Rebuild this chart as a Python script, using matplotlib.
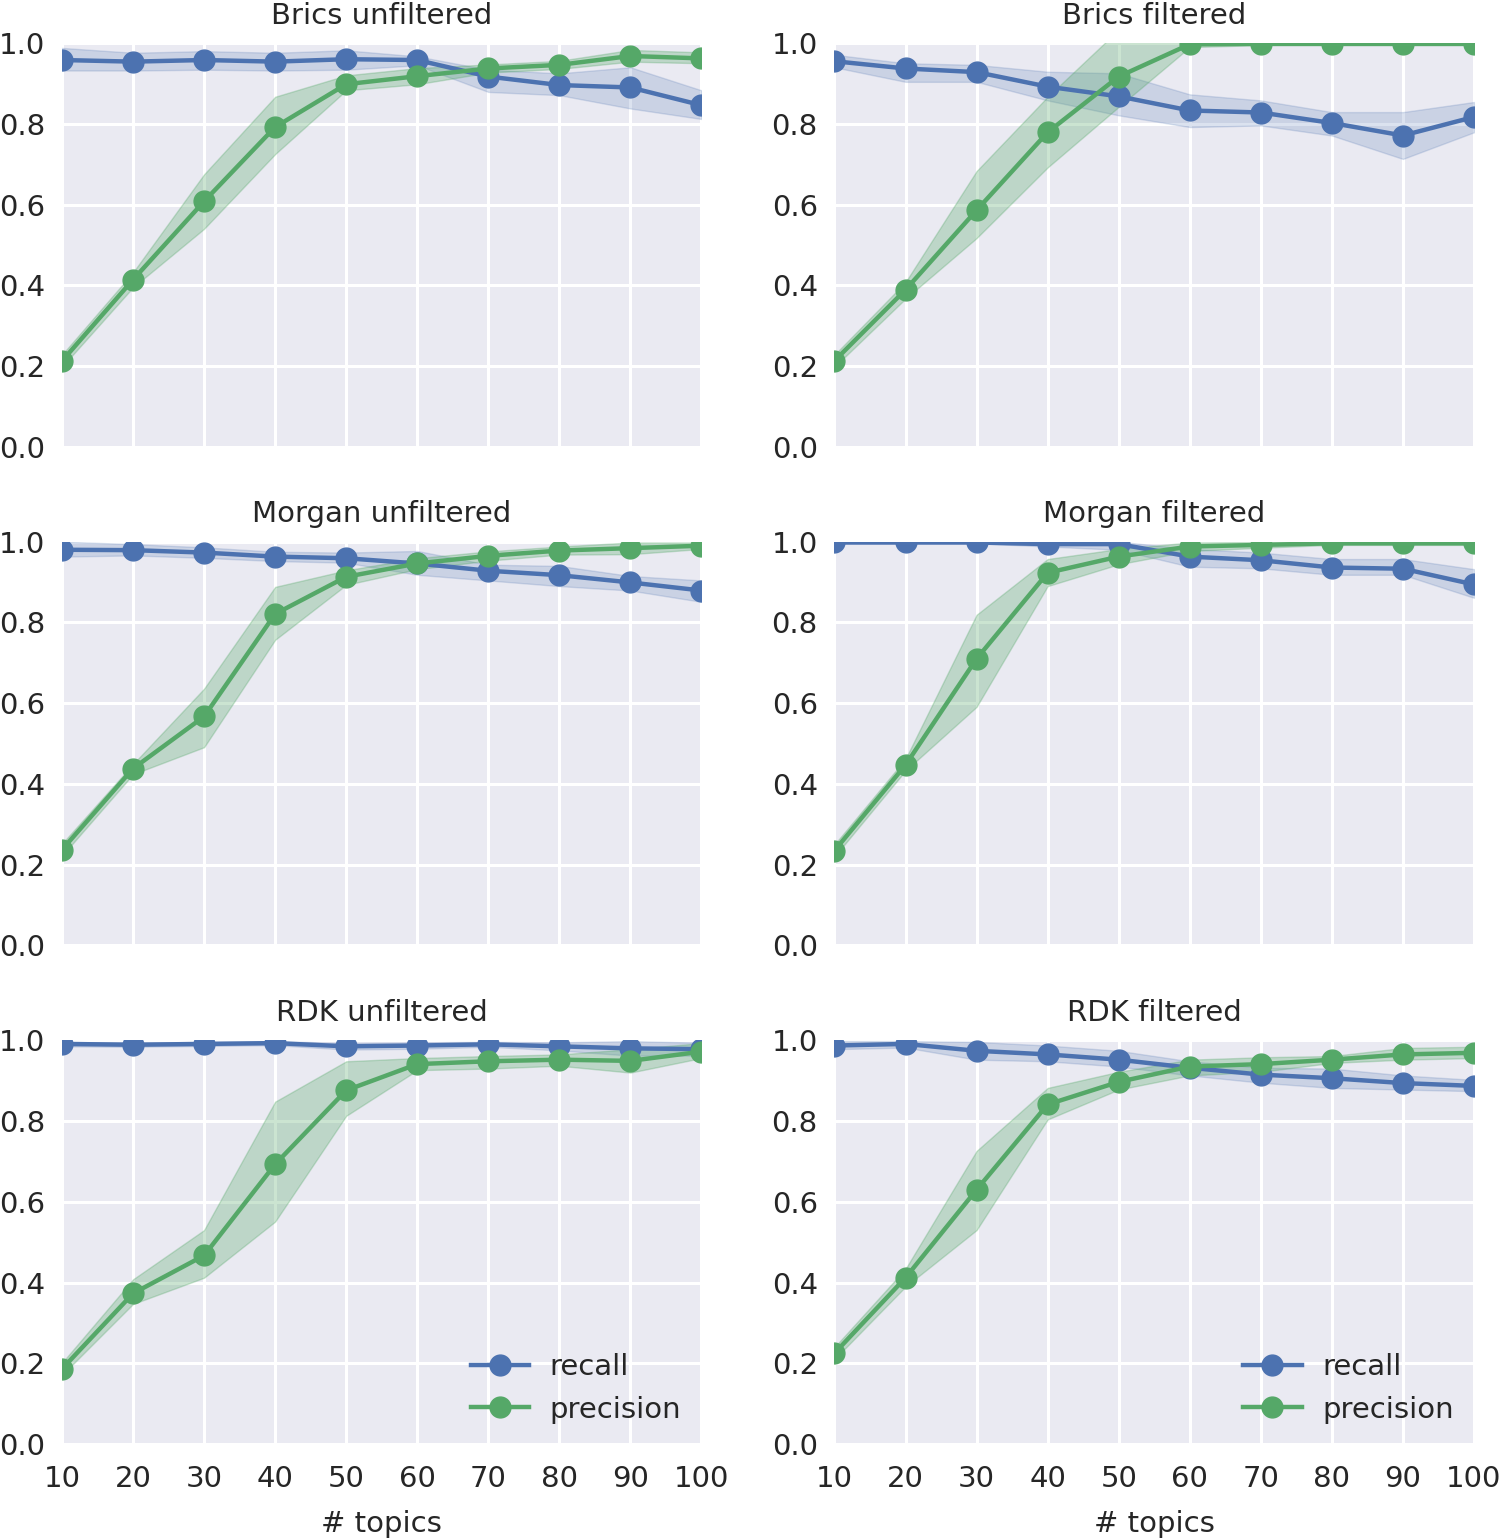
import numpy as np
import matplotlib
matplotlib.use("Agg")
import matplotlib.pyplot as plt

topics = [10, 20, 30, 40, 50, 60, 70, 80, 90, 100]
titles = ["Brics unfiltered", "Brics filtered", "Morgan unfiltered",
          "Morgan filtered", "RDK unfiltered", "RDK filtered"]

# recall means and band bounds
brics_unf_recall = [0.958, 0.954, 0.958, 0.954, 0.960, 0.958, 0.917, 0.896, 0.890, 0.846]
brics_unf_recall_lo = [0.932, 0.932, 0.934, 0.932, 0.934, 0.945, 0.879, 0.871, 0.838, 0.812]
brics_unf_recall_hi = [0.988, 0.976, 0.980, 0.976, 0.982, 0.967, 0.934, 0.925, 0.940, 0.883]
brics_unf_prec = [0.2125, 0.414, 0.608, 0.792, 0.898, 0.918, 0.937, 0.946, 0.968, 0.962]
brics_unf_prec_lo = [0.198, 0.395, 0.540, 0.725, 0.883, 0.898, 0.927, 0.936, 0.954, 0.950]
brics_unf_prec_hi = [0.228, 0.432, 0.675, 0.867, 0.920, 0.938, 0.947, 0.956, 0.983, 0.977]

brics_f_recall = [0.955, 0.937, 0.928, 0.892, 0.868, 0.833, 0.828, 0.802, 0.771, 0.817]
brics_f_recall_lo = [0.940, 0.904, 0.904, 0.858, 0.821, 0.792, 0.796, 0.771, 0.713, 0.779]
brics_f_recall_hi = [0.971, 0.950, 0.946, 0.929, 0.925, 0.873, 0.858, 0.829, 0.829, 0.854]
brics_f_prec = [0.213, 0.389, 0.586, 0.779, 0.917, 0.997, 0.998, 0.998, 0.998, 0.998]
brics_f_prec_lo = [0.198, 0.367, 0.517, 0.692, 0.842, 0.990, 0.995, 0.995, 0.995, 0.995]
brics_f_prec_hi = [0.228, 0.408, 0.683, 0.867, 1.033, 1.001, 1.001, 1.001, 1.001, 1.001]

morgan_unf_recall = [0.980, 0.979, 0.973, 0.963, 0.959, 0.946, 0.928, 0.917, 0.899, 0.879]
morgan_unf_recall_lo = [0.963, 0.966, 0.960, 0.952, 0.948, 0.918, 0.904, 0.890, 0.879, 0.851]
morgan_unf_recall_hi = [1.000, 0.994, 0.986, 0.975, 0.973, 0.977, 0.943, 0.940, 0.915, 0.904]
morgan_unf_prec = [0.237, 0.438, 0.567, 0.821, 0.913, 0.946, 0.965, 0.978, 0.984, 0.990]
morgan_unf_prec_lo = [0.222, 0.424, 0.491, 0.757, 0.893, 0.932, 0.953, 0.968, 0.969, 0.982]
morgan_unf_prec_hi = [0.252, 0.449, 0.636, 0.888, 0.929, 0.959, 0.976, 0.988, 0.998, 0.998]

morgan_f_recall = [0.998, 0.998, 0.998, 0.994, 0.994, 0.963, 0.954, 0.936, 0.933, 0.894]
morgan_f_recall_lo = [0.996, 0.996, 0.996, 0.988, 0.980, 0.938, 0.934, 0.918, 0.918, 0.861]
morgan_f_recall_hi = [1.000, 1.000, 1.000, 1.000, 1.000, 0.982, 0.973, 0.957, 0.957, 0.932]
morgan_f_prec = [0.235, 0.447, 0.710, 0.923, 0.963, 0.988, 0.992, 0.996, 0.996, 0.996]
morgan_f_prec_lo = [0.220, 0.433, 0.591, 0.890, 0.944, 0.977, 0.985, 0.992, 0.992, 0.992]
morgan_f_prec_hi = [0.250, 0.462, 0.819, 0.957, 0.982, 0.998, 0.999, 1.000, 1.000, 1.000]

rdk_unf_recall = [0.991, 0.989, 0.991, 0.993, 0.985, 0.987, 0.990, 0.985, 0.980, 0.978]
rdk_unf_recall_lo = [0.985, 0.984, 0.986, 0.988, 0.977, 0.979, 0.984, 0.975, 0.962, 0.962]
rdk_unf_recall_hi = [0.996, 0.994, 0.996, 0.998, 0.993, 0.995, 0.996, 0.995, 0.998, 0.994]
rdk_unf_prec = [0.186, 0.373, 0.467, 0.693, 0.876, 0.941, 0.948, 0.952, 0.949, 0.972]
rdk_unf_prec_lo = [0.171, 0.347, 0.412, 0.551, 0.813, 0.926, 0.930, 0.937, 0.920, 0.956]
rdk_unf_prec_hi = [0.201, 0.408, 0.530, 0.848, 0.948, 0.956, 0.961, 0.965, 0.978, 0.993]

rdk_f_recall = [0.987, 0.991, 0.974, 0.965, 0.952, 0.932, 0.915, 0.906, 0.894, 0.887]
rdk_f_recall_lo = [0.978, 0.982, 0.952, 0.948, 0.935, 0.913, 0.895, 0.882, 0.878, 0.874]
rdk_f_recall_hi = [0.998, 0.998, 0.996, 0.987, 0.974, 0.948, 0.932, 0.930, 0.913, 0.902]
rdk_f_prec = [0.225, 0.412, 0.630, 0.841, 0.897, 0.935, 0.941, 0.952, 0.965, 0.969]
rdk_f_prec_lo = [0.210, 0.390, 0.530, 0.804, 0.878, 0.913, 0.922, 0.944, 0.952, 0.956]
rdk_f_prec_hi = [0.240, 0.434, 0.726, 0.882, 0.922, 0.952, 0.958, 0.961, 0.981, 0.984]

panels = [
    (brics_unf_recall, brics_unf_recall_lo, brics_unf_recall_hi, brics_unf_prec, brics_unf_prec_lo, brics_unf_prec_hi),
    (brics_f_recall, brics_f_recall_lo, brics_f_recall_hi, brics_f_prec, brics_f_prec_lo, brics_f_prec_hi),
    (morgan_unf_recall, morgan_unf_recall_lo, morgan_unf_recall_hi, morgan_unf_prec, morgan_unf_prec_lo, morgan_unf_prec_hi),
    (morgan_f_recall, morgan_f_recall_lo, morgan_f_recall_hi, morgan_f_prec, morgan_f_prec_lo, morgan_f_prec_hi),
    (rdk_unf_recall, rdk_unf_recall_lo, rdk_unf_recall_hi, rdk_unf_prec, rdk_unf_prec_lo, rdk_unf_prec_hi),
    (rdk_f_recall, rdk_f_recall_lo, rdk_f_recall_hi, rdk_f_prec, rdk_f_prec_lo, rdk_f_prec_hi),
]

BLUE = "#4C72B0"
GREEN = "#55A868"
FS = 21

plt.rcParams['font.family'] = ['DejaVu Sans']
plt.rcParams['text.color'] = '#262626'

fig, axes = plt.subplots(3, 2, figsize=(15.01, 15.38), dpi=100)
fig.subplots_adjust(left=0.0413, right=0.982, top=0.972, bottom=0.0611,
                    wspace=0.208, hspace=0.235)

for i, ax in enumerate(axes.flat):
    rec, rlo, rhi, pre, plo, phi = panels[i]
    ax.set_facecolor('#EAEAF2')
    for s in ax.spines.values():
        s.set_visible(False)
    ax.grid(True, color='white', linewidth=2.2)
    ax.set_axisbelow(True)
    ax.fill_between(topics, rlo, rhi, color=BLUE, alpha=0.2, linewidth=1)
    ax.fill_between(topics, plo, phi, color=GREEN, alpha=0.3, linewidth=1)
    ax.plot(topics, rec, color=BLUE, lw=3.2, marker='o', ms=15, label='recall')
    ax.plot(topics, pre, color=GREEN, lw=3.2, marker='o', ms=15, label='precision')
    ax.set_xlim(10, 100)
    ax.set_ylim(0, 1.0)
    ax.set_xticks(topics)
    ax.set_yticks([0.0, 0.2, 0.4, 0.6, 0.8, 1.0])
    ax.set_yticklabels(["0.0", "0.2", "0.4", "0.6", "0.8", "1.0"])
    ax.tick_params(axis='y', length=0, labelsize=FS, labelcolor='#262626', pad=12)
    ax.tick_params(axis='x', length=0, labelsize=FS, labelcolor='#262626', pad=15)
    ax.set_title(titles[i], fontsize=FS, pad=14, color='#262626')
    if i >= 4:
        ax.set_xlabel("# topics", fontsize=FS, color='#262626', labelpad=12)
        ax.legend(loc='lower right', fontsize=FS, frameon=False,
                  handlelength=2.0, handletextpad=0.7, borderaxespad=0.3)
    else:
        ax.set_xticklabels([])

fig.savefig("out.png", dpi=100, facecolor='white')
